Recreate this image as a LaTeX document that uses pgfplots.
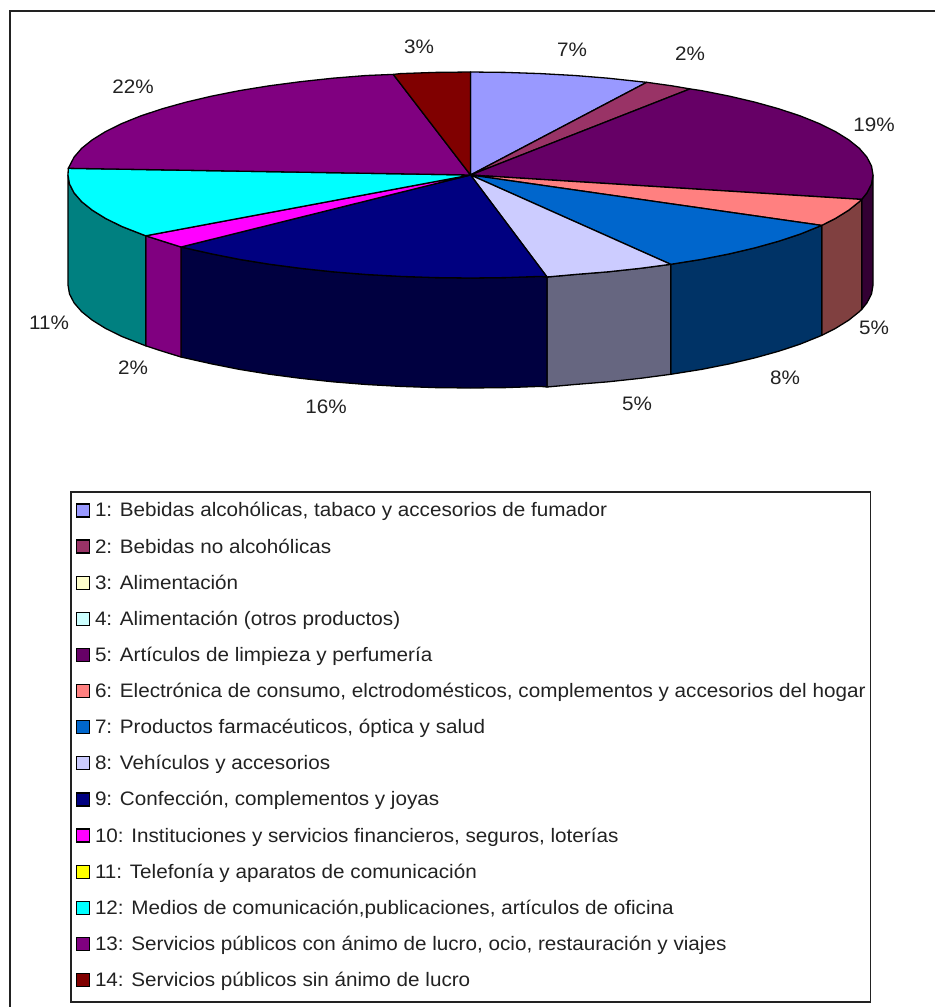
\documentclass[border=0pt]{standalone}
\usepackage{pgfplots}
\pgfplotsset{compat=1.18}
\usepackage{fontspec}
\setmainfont[FakeStretch=1.06]{Liberation Sans}
\definecolor{c1}{HTML}{9999FF}\definecolor{c2}{HTML}{993366}\definecolor{c3}{HTML}{FFFFCC}
\definecolor{c4}{HTML}{CCFFFF}\definecolor{c5}{HTML}{660066}\definecolor{c6}{HTML}{FF8080}
\definecolor{c7}{HTML}{0066CC}\definecolor{c8}{HTML}{CCCCFF}\definecolor{c9}{HTML}{000080}
\definecolor{c10}{HTML}{FF00FF}\definecolor{c11}{HTML}{FFFF00}\definecolor{c12}{HTML}{00FFFF}
\definecolor{c13}{HTML}{800080}\definecolor{c14}{HTML}{800000}
\definecolor{s5}{HTML}{330033}\definecolor{s6}{HTML}{804040}\definecolor{s7}{HTML}{003366}
\definecolor{s8}{HTML}{666680}\definecolor{s9}{HTML}{000040}\definecolor{s10}{HTML}{800080}
\definecolor{s12}{HTML}{008080}
\definecolor{txt}{HTML}{222222}
\pgfplotsset{
  pieface/.style={fill=#1,draw=black,line width=1.3pt,line join=round,mark=none,forget plot},
  sw/.style={legend image code/.code={\draw[draw=black,fill=#1,line width=1.2pt] (0pt,0pt) rectangle (13pt,13pt);}},
}
\newcommand{\lab}[3]{\node[font=\fontsize{19.5}{22}\selectfont,text=txt] at (axis cs:#1,#2) {#3};}
\begin{document}
\begin{tikzpicture}[x=1pt,y=1pt]
\path[use as bounding box] (0,0) rectangle (935,1007);
\begin{axis}[
  at={(0pt,0pt)},anchor=south west,
  scale only axis,width=935pt,height=1007pt,
  xmin=0,xmax=935,ymin=0,ymax=1007,y dir=reverse,
  hide axis,clip=false,
  legend cell align=left,
  legend style={
    at={(axis cs:70,491)},anchor=north west,
    draw=txt,line width=1.6pt,
    font=\fontsize{19.5}{22}\selectfont,
    text=txt,
    inner xsep=5pt,inner ysep=11.5pt,
    row sep=18.53pt,
    nodes={text height=12pt,text depth=4pt,inner sep=0pt,anchor=base west,line width=0pt},
    /tikz/every odd column/.style={column sep=5pt},
  },
]
% outer frame
\addplot[draw=txt,line width=2pt,mark=none,forget plot] coordinates {(935,11) (10,11) (10,1007)};

% side walls
\addplot[pieface=s5] coordinates {(873,175) (871.5,184) (866.9,192.9) (861.7,199.4) (861.7,309.4) (866.9,302.9) (871.5,294) (873,285) (873,175)};
\addplot[pieface=s6] coordinates {(861.7,199.4) (859.3,201.7) (848.7,210.2) (835.3,218.5) (821.7,225.4) (821.7,335.4) (835.3,328.5) (848.7,320.2) (859.3,311.7) (861.7,309.4) (861.7,199.4)};
\addplot[pieface=s7] coordinates {(821.7,225.4) (800.2,234.1) (778.8,241.2) (755.1,247.8) (729.2,253.9) (701.4,259.4) (670.7,264.3) (670.7,374.3) (701.4,369.4) (729.2,363.9) (755.1,357.8) (778.8,351.2) (800.2,344.1) (821.7,335.4) (821.7,225.4)};
\addplot[pieface=s8] coordinates {(670.7,264.3) (640.6,268.3) (608.2,271.8) (574.7,274.5) (547,277) (547,387) (574.7,384.5) (608.2,381.8) (640.6,378.3) (670.7,374.3) (670.7,264.3)};
\addplot[pieface=s9] coordinates {(547,277) (540.4,276.4) (505.6,277.6) (470.5,278) (435.4,277.6) (400.6,276.4) (366.3,274.5) (332.8,271.8) (300.4,268.3) (269.2,264.2) (239.6,259.4) (211.8,253.9) (181,247) (181,357) (211.8,363.9) (239.6,369.4) (269.2,374.2) (300.4,378.3) (332.8,381.8) (366.3,384.5) (400.6,386.4) (435.4,387.6) (470.5,388) (505.6,387.6) (540.4,386.4) (547,387) (547,277)};
\addplot[pieface=s10] coordinates {(181,247) (145.7,235.8) (145.7,345.8) (162.2,351.2) (181,357) (181,247)};
\addplot[pieface=s12] coordinates {(145.7,235.8) (121.9,226.5) (105.7,218.5) (92.3,210.2) (81.7,201.7) (74.1,192.9) (69.5,184) (68,175) (68,285) (69.5,294) (74.1,302.9) (81.7,311.7) (92.3,320.2) (105.7,328.5) (121.9,336.5) (145.7,345.8) (145.7,235.8)};

% top faces
\addplot[pieface=c1] coordinates {(470.5,175) (470.5,72) (505.6,72.4) (540.4,73.6) (574.7,75.5) (608.2,78.2) (640.6,81.7) (646.7,82.3) (470.5,175)};
\addplot[pieface=c2] coordinates {(470.5,175) (646.7,82.3) (671.8,85.8) (690,88.9) (470.5,175)};
\addplot[pieface=c5] coordinates {(470.5,175) (690,88.9) (701.4,90.6) (729.2,96.1) (755.1,102.2) (778.8,108.8) (800.2,115.9) (819.1,123.5) (835.3,131.5) (848.7,139.8) (859.3,148.3) (866.9,157.1) (871.5,166) (873,175) (871.5,184) (866.9,192.9) (861.7,199.4) (470.5,175)};
\addplot[pieface=c6] coordinates {(470.5,175) (861.7,199.4) (859.3,201.7) (848.7,210.2) (835.3,218.5) (821.7,225.4) (470.5,175)};
\addplot[pieface=c7] coordinates {(470.5,175) (821.7,225.4) (800.2,234.1) (778.8,241.2) (755.1,247.8) (729.2,253.9) (701.4,259.4) (670.7,264.3) (470.5,175)};
\addplot[pieface=c8] coordinates {(470.5,175) (670.7,264.3) (640.6,268.3) (608.2,271.8) (574.7,274.5) (547,277) (470.5,175)};
\addplot[pieface=c9] coordinates {(470.5,175) (547,277) (540.4,276.4) (505.6,277.6) (470.5,278) (435.4,277.6) (400.6,276.4) (366.3,274.5) (332.8,271.8) (300.4,268.3) (269.2,264.2) (239.6,259.4) (211.8,253.9) (181,247) (470.5,175)};
\addplot[pieface=c10] coordinates {(470.5,175) (181,247) (145.7,235.8) (470.5,175)};
\addplot[pieface=c12] coordinates {(470.5,175) (145.7,235.8) (121.9,226.5) (105.7,218.5) (92.3,210.2) (81.7,201.7) (74.1,192.9) (69.5,184) (68,175) (68.3,168.3) (470.5,175)};
\addplot[pieface=c13] coordinates {(470.5,175) (68.3,168.3) (69.5,166) (74.1,157.1) (81.7,148.3) (92.3,139.8) (105.7,131.5) (121.9,123.5) (140.8,115.9) (162.2,108.8) (185.9,102.2) (211.8,96.1) (239.6,90.6) (269.2,85.8) (300.4,81.7) (332.8,78.2) (366.3,75.5) (393.3,74.4) (470.5,175)};
\addplot[pieface=c14] coordinates {(470.5,175) (393.3,74.4) (400.6,73.6) (435.4,72.4) (470.5,72) (470.5,175)};

% percentage labels
\lab{419}{47}{3\%}
\lab{572}{50}{7\%}
\lab{690}{54}{2\%}
\lab{874}{125}{19\%}
\lab{874}{328}{5\%}
\lab{785}{378}{8\%}
\lab{637}{404}{5\%}
\lab{326}{407}{16\%}
\lab{133}{368}{2\%}
\lab{49}{323}{11\%}
\lab{133}{87}{22\%}

% legend
\addlegendimage{sw=c1}\addlegendentry{1: Bebidas alcohólicas, tabaco y accesorios de fumador}
\addlegendimage{sw=c2}\addlegendentry{2: Bebidas no alcohólicas}
\addlegendimage{sw=c3}\addlegendentry{3: Alimentación}
\addlegendimage{sw=c4}\addlegendentry{4: Alimentación (otros productos)}
\addlegendimage{sw=c5}\addlegendentry{5: Artículos de limpieza y perfumería}
\addlegendimage{sw=c6}\addlegendentry{6: Electrónica de consumo, elctrodomésticos, complementos y accesorios del hogar}
\addlegendimage{sw=c7}\addlegendentry{7: Productos farmacéuticos, óptica y salud}
\addlegendimage{sw=c8}\addlegendentry{8: Vehículos y accesorios}
\addlegendimage{sw=c9}\addlegendentry{9: Confección, complementos y joyas}
\addlegendimage{sw=c10}\addlegendentry{10: Instituciones y servicios financieros, seguros, loterías}
\addlegendimage{sw=c11}\addlegendentry{11: Telefonía y aparatos de comunicación}
\addlegendimage{sw=c12}\addlegendentry{12: Medios de comunicación,publicaciones, artículos de oficina}
\addlegendimage{sw=c13}\addlegendentry{13: Servicios públicos con ánimo de lucro, ocio, restauración y viajes}
\addlegendimage{sw=c14}\addlegendentry{14: Servicios públicos sin ánimo de lucro}
\end{axis}
\end{tikzpicture}
\end{document}
